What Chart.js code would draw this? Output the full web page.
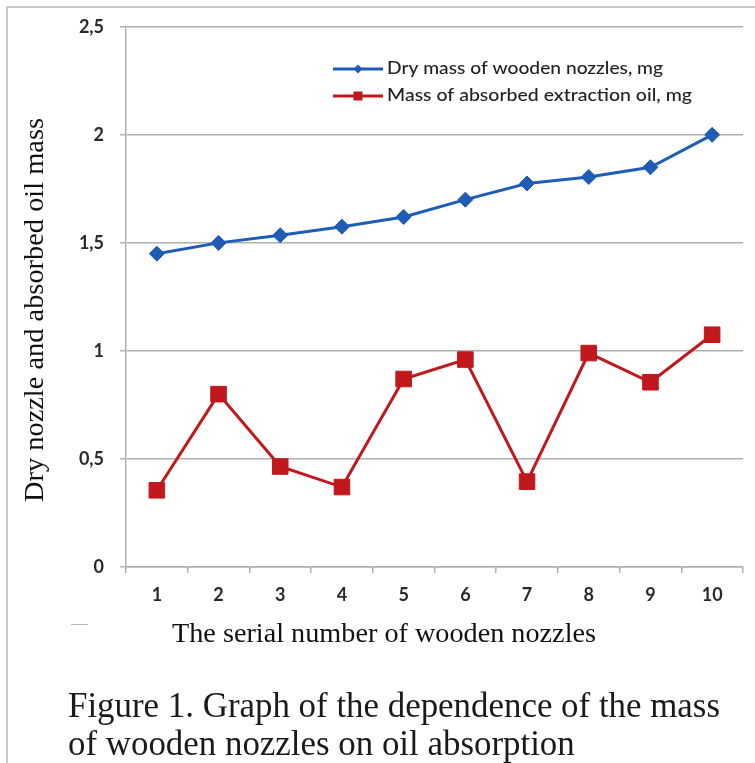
<!DOCTYPE html>
<html>
<head>
<meta charset="utf-8">
<script src="https://cdn.jsdelivr.net/npm/chart.js@4.4.1/dist/chart.umd.min.js"></script>
<style>
    html, body { margin: 0; padding: 0; background: #fff; }
    #wrap { width: 755px; height: 763px; position: relative; }
</style>
</head>
<body>
<div id="wrap"><canvas id="myChart"></canvas></div>
<script>
// data
const categories = ['1', '2', '3', '4', '5', '6', '7', '8', '9', '10'];
const dryMass = [1.45, 1.50, 1.535, 1.575, 1.62, 1.70, 1.775, 1.805, 1.85, 2.0];
const oilMass = [0.355, 0.80, 0.465, 0.37, 0.87, 0.96, 0.395, 0.99, 0.855, 1.075];
const yTicks = [0, 0.5, 1, 1.5, 2, 2.5];
const seriesNames = ['Dry mass of wooden nozzles, mg', 'Mass of absorbed extraction oil, mg'];
const xTitle = 'The serial number of wooden nozzles';
const yTitle = 'Dry nozzle and absorbed oil mass';
const caption = ['Figure 1. Graph of the dependence of the mass', 'of wooden nozzles on oil absorption'];

const BLUE = '#1f5cb6';
const RED = '#c0181c';
const GRID = '#b0b0b0';
const TEXT = '#222222';

// draw text squeezed / stretched to a target width (the source image is stretched)
function fitText(ctx, text, x, y, width, font, align) {
    ctx.save();
    ctx.font = font;
    const w = ctx.measureText(text).width;
    const k = width / w;
    ctx.translate(x, y);
    ctx.scale(k, 1);
    ctx.textAlign = align || 'left';
    ctx.fillText(text, 0, 0);
    ctx.restore();
}

const decorPlugin = {
    id: 'decor',
    beforeDraw(chart) {
        const ctx = chart.ctx;
        ctx.save();
        ctx.fillStyle = '#fff';
        ctx.fillRect(0, 0, chart.width, chart.height);
        // frame of the scanned figure
        ctx.strokeStyle = '#c8c8c8';
        ctx.lineWidth = 2;
        ctx.beginPath();
        ctx.moveTo(7, 763);
        ctx.lineTo(7, 7);
        ctx.lineTo(755, 7);
        ctx.stroke();
        ctx.restore();
    },
    afterDraw(chart) {
        const ctx = chart.ctx;
        ctx.save();
        ctx.fillStyle = TEXT;

        // legend
        const rows = [{y: 69, color: BLUE, shape: 'diamond'}, {y: 96, color: RED, shape: 'square'}];
        rows.forEach((r, i) => {
            ctx.strokeStyle = r.color;
            ctx.fillStyle = r.color;
            ctx.lineWidth = 3;
            ctx.beginPath();
            ctx.moveTo(333, r.y);
            ctx.lineTo(383, r.y);
            ctx.stroke();
            ctx.beginPath();
            if (r.shape === 'diamond') {
                ctx.moveTo(358 - 4.5, r.y);
                ctx.lineTo(358, r.y - 4.5);
                ctx.lineTo(358 + 4.5, r.y);
                ctx.lineTo(358, r.y + 4.5);
                ctx.closePath();
            } else {
                ctx.rect(358 - 4.5, r.y - 4.5, 9, 9);
            }
            ctx.fill();
            ctx.fillStyle = TEXT;
            ctx.textBaseline = 'middle';
            const w = i === 0 ? 276 : 305;
            fitText(ctx, seriesNames[i], 387, r.y, w, '500 17px Lato');
        });

        // axis titles
        ctx.fillStyle = '#111';
        ctx.textBaseline = 'middle';
        fitText(ctx, xTitle, 384, 635, 424, '28px "Liberation Serif"', 'center');
        ctx.save();
        ctx.translate(36, 310);
        ctx.rotate(-Math.PI / 2);
        fitText(ctx, yTitle, 0, 0, 384, '28px "Liberation Serif"', 'center');
        ctx.restore();

        // caption
        ctx.fillStyle = '#1a1a1a';
        ctx.textBaseline = 'alphabetic';
        const capFont = '35px "Liberation Serif"';
        ctx.font = capFont;
        const k = 652 / ctx.measureText(caption[0]).width;
        fitText(ctx, caption[0], 68, 717, 652, capFont);
        ctx.font = capFont;
        fitText(ctx, caption[1], 68, 755, ctx.measureText(caption[1]).width * k, capFont);

        // small stray dash left of the axis title
        ctx.strokeStyle = '#b8b8b8';
        ctx.lineWidth = 1;
        ctx.beginPath();
        ctx.moveTo(71, 624.5);
        ctx.lineTo(88, 624.5);
        ctx.stroke();
        ctx.restore();
    }
};

const tickFont = {family: 'Lato', size: 18, weight: 'bold'};

const data = {
    labels: categories,
    datasets: [{
        label: seriesNames[0],
        data: dryMass,
        borderColor: BLUE,
        backgroundColor: BLUE,
        borderWidth: 3,
        pointStyle: 'rectRot',
        pointRadius: 7.5,
        pointBorderWidth: 1,
        tension: 0
    }, {
        label: seriesNames[1],
        data: oilMass,
        borderColor: RED,
        backgroundColor: RED,
        borderWidth: 3,
        pointStyle: 'rect',
        pointRadius: 11,
        pointBorderWidth: 1,
        tension: 0
    }]
};

const config = {
    type: 'line',
    data: data,
    options: {
        responsive: true,
        maintainAspectRatio: false,
        animation: false,
        layout: {
            padding: {top: 24, right: 8, bottom: 96, left: 0}
        },
        plugins: {
            legend: {display: false},
            tooltip: {enabled: false}
        },
        scales: {
            x: {
                offset: true,
                grid: {
                    offset: true,
                    drawOnChartArea: false,
                    drawTicks: true,
                    tickLength: 6,
                    color: GRID,
                    lineWidth: 1.5
                },
                border: {color: GRID, width: 1.5},
                ticks: {
                    font: tickFont,
                    color: '#2a2a2a',
                    padding: 11,
                    maxRotation: 0
                },
                afterFit: (scale) => { scale.height = 100; }
            },
            y: {
                min: 0,
                max: 2.5,
                grid: {
                    color: GRID,
                    tickLength: 6,
                    lineWidth: 1.5
                },
                border: {color: GRID, width: 1.5},
                ticks: {
                    font: tickFont,
                    color: '#2a2a2a',
                    padding: 16,
                    callback: (v) => String(v).replace('.', ',')
                },
                afterBuildTicks: (scale) => {
                    scale.ticks = yTicks.map(v => ({value: v}));
                },
                afterFit: (scale) => { scale.width = 126; }
            }
        }
    },
    plugins: [decorPlugin]
};

const ctx = document.getElementById('myChart').getContext('2d');
const myChart = new Chart(ctx, config);
</script>
</body>
</html>
